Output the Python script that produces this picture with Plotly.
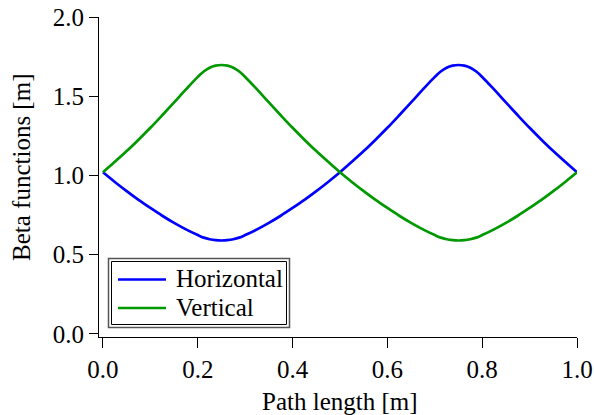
import plotly.graph_objects as go

# Path length positions [m]
path_length = [0.0, 0.025, 0.05, 0.075, 0.1, 0.125, 0.15, 0.175, 0.2, 0.2125, 0.225, 0.2375,
               0.25, 0.2625, 0.275, 0.2875, 0.3, 0.325, 0.35, 0.375, 0.4, 0.425, 0.45, 0.475,
               0.5, 0.525, 0.55, 0.575, 0.6, 0.625, 0.65, 0.675, 0.7, 0.7125, 0.725, 0.7375,
               0.75, 0.7625, 0.775, 0.7875, 0.8, 0.825, 0.85, 0.875, 0.9, 0.925, 0.95, 0.975, 1.0]

# Horizontal beta function [m]
beta_horizontal = [1.02, 0.959, 0.901, 0.846, 0.795, 0.746, 0.701, 0.660, 0.624, 0.608, 0.598, 0.592,
                   0.590, 0.592, 0.598, 0.608, 0.624, 0.660, 0.701, 0.746, 0.795, 0.846, 0.901, 0.959,
                   1.02, 1.086, 1.154, 1.226, 1.301, 1.380, 1.461, 1.543, 1.622, 1.656, 1.680, 1.693,
                   1.697, 1.693, 1.680, 1.656, 1.622, 1.543, 1.461, 1.380, 1.301, 1.226, 1.154, 1.086, 1.02]

# Vertical beta function [m]
beta_vertical = [1.02, 1.086, 1.154, 1.226, 1.301, 1.380, 1.461, 1.543, 1.622, 1.656, 1.680, 1.693,
                 1.697, 1.693, 1.680, 1.656, 1.622, 1.543, 1.461, 1.380, 1.301, 1.226, 1.154, 1.086,
                 1.02, 0.959, 0.901, 0.846, 0.795, 0.746, 0.701, 0.660, 0.624, 0.608, 0.598, 0.592,
                 0.590, 0.592, 0.598, 0.608, 0.624, 0.660, 0.701, 0.746, 0.795, 0.846, 0.901, 0.959, 1.02]

series_names = ["Horizontal", "Vertical"]
series_colors = ["#0000ff", "#009900"]

x_ticks = [0.0, 0.2, 0.4, 0.6, 0.8, 1.0]
y_ticks = [0.0, 0.5, 1.0, 1.5, 2.0]

x_title = "Path length [m]"
y_title = "Beta functions [m]"

FONT = "Liberation Serif, Times New Roman, serif"
FS = 25
W, H = 594, 415
L, R, T, B = 99, 17, 17, 78
PW, PH = W - L - R, H - T - B


def px_x(p):
    return (p - L) / PW


def px_y(p):
    return (H - B - p) / PH


fig = go.Figure()
for name, ys, col in zip(series_names, [beta_horizontal, beta_vertical], series_colors):
    fig.add_trace(go.Scatter(x=path_length, y=ys, mode="lines", name=name,
                             line=dict(color=col, width=2.7, shape="spline", smoothing=1.0),
                             showlegend=False))

shapes = [
    dict(type="rect", xref="paper", yref="paper", x0=px_x(108.5), x1=px_x(289.5),
         y0=px_y(327.5), y1=px_y(258.5), line=dict(color="#555555", width=1.5)),
    dict(type="rect", xref="paper", yref="paper", x0=px_x(111.5), x1=px_x(286.5),
         y0=px_y(324.5), y1=px_y(261.5), line=dict(color="#000000", width=1)),
]
annotations = []
legend_rows = [279.5, 308.0]
for name, col, yy in zip(series_names, series_colors, legend_rows):
    shapes.append(dict(type="line", xref="paper", yref="paper", x0=px_x(118), x1=px_x(166),
                       y0=px_y(yy), y1=px_y(yy), line=dict(color=col, width=2.7)))
    annotations.append(dict(xref="paper", yref="paper", x=px_x(174), y=px_y(yy - 1),
                            text=name, showarrow=False, xanchor="left", yanchor="middle",
                            font=dict(family=FONT, size=FS, color="black")))

# axis titles
annotations.append(dict(xref="paper", yref="paper", x=px_x(339.5), y=px_y(401),
                        text=x_title, showarrow=False, xanchor="center", yanchor="middle",
                        font=dict(family=FONT, size=FS, color="black")))
annotations.append(dict(xref="paper", yref="paper", x=px_x(21), y=px_y(168),
                        text=y_title, showarrow=False, xanchor="center", yanchor="middle",
                        textangle=-90, font=dict(family=FONT, size=FS, color="black")))

fig.update_layout(
    width=W, height=H,
    margin=dict(l=L, r=R, t=T, b=B, autoexpand=False),
    paper_bgcolor="white", plot_bgcolor="white",
    font=dict(family=FONT, size=FS, color="black"),
    showlegend=False,
    shapes=shapes,
    annotations=annotations,
    xaxis=dict(range=[-0.0084, 1.0], tickvals=x_ticks, tickformat=".1f", automargin=False,
               showgrid=False, zeroline=False, showline=True, linecolor="black", linewidth=1.2,
               ticks="outside", ticklen=10, tickwidth=1.2, tickcolor="black"),
    yaxis=dict(range=[-0.019, 2.0], tickvals=y_ticks, tickformat=".1f", automargin=False,
               showgrid=False, zeroline=False, showline=True, linecolor="black", linewidth=1.2,
               ticks="outside", ticklen=9, tickwidth=1.2, tickcolor="black"),
)

fig.write_html("out.html")
